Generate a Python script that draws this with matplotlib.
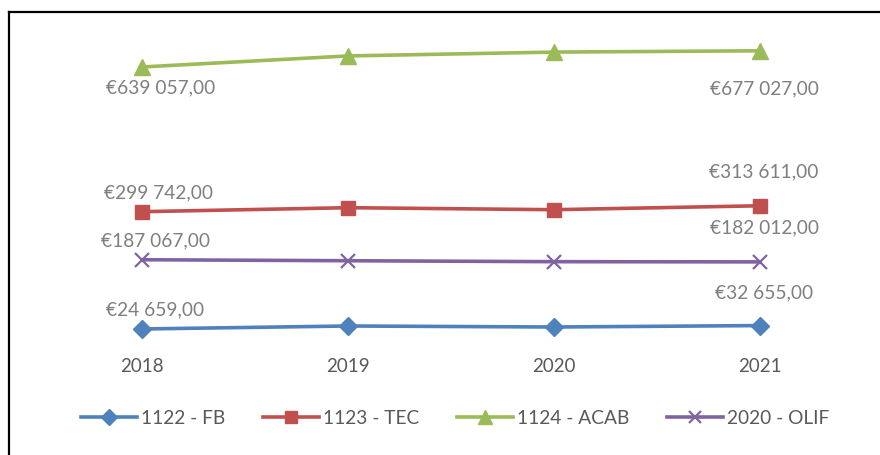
import matplotlib
matplotlib.use("Agg")
import matplotlib.pyplot as plt
from matplotlib.lines import Line2D

plt.rcParams['font.family'] = ['Lato', 'DejaVu Sans']

# data
years = ["2018", "2019", "2020", "2021"]
fb = [24659, 31700, 29300, 32655]
tec = [299742, 309100, 304400, 313611]
acab = [639057, 665000, 674000, 677027]
olif = [187067, 184700, 182500, 182012]
names = ["1122 - FB", "1123 - TEC", "1124 - ACAB", "2020 - OLIF"]

series = [fb, tec, acab, olif]
colors = ["#4F81BD", "#C0504D", "#9BBB59", "#8064A2"]
markers = ["D", "s", "^", "x"]
msizes = [9, 10, 11, 10]
# label offsets in pixels (first point, last point)
offsets = [((13, 19), (4, 33)),
           ((16, 19), (4, 34)),
           ((19, -21), (4, -38)),
           ((13, 19), (4, 34))]

fig = plt.figure(figsize=(8.8, 4.55), dpi=100)
ax = fig.add_axes([39 / 880, (455 - 339.5) / 455, (863 - 39) / 880, (339.5 - 41) / 455])

x = list(range(len(years)))
for vals, c, m, ms, off in zip(series, colors, markers, msizes, offsets):
    mew = 1.6 if m == "x" else 1
    ax.plot(x, vals, color=c, lw=2.6, marker=m, ms=ms, mec=c, mfc=c, mew=mew,
            solid_capstyle="round")
    for i, o in zip([0, len(vals) - 1], off):
        lab = "€" + f"{vals[i]:,.2f}".replace(",", " ").replace(".", ",")
        ax.annotate(lab, (x[i], vals[i]), xytext=o, textcoords="offset pixels",
                    ha="center", va="center", fontsize=13.8, color="#7F7F7F")

ax.set_xlim(-0.5, len(years) - 0.5)
ax.set_ylim(0, 700000)
ax.set_xticks(x)
ax.set_xticklabels(years, fontsize=13.5, color="#595959")
ax.tick_params(axis="x", length=0, pad=13)
ax.set_yticks([])
for s in ax.spines.values():
    s.set_visible(False)

handles = [Line2D([0], [0], color=c, lw=2.6, marker=m, ms=ms - 1, mec=c, mfc=c,
                  mew=(1.6 if m == "x" else 1))
           for c, m, ms in zip(colors, markers, msizes)]
fig.legend(handles, names, loc="center", bbox_to_anchor=(455 / 880, (455 - 418) / 455),
           ncol=4, frameon=False, fontsize=13.8, handlelength=2.9, handletextpad=0.2,
           columnspacing=2.0, labelcolor="#595959")

# chart border (top and left visible)
fig.add_artist(Line2D([9 / 880, 9 / 880], [0, (455 - 11.5) / 455], color="black", lw=1.6,
                      transform=fig.transFigure))
fig.add_artist(Line2D([9 / 880, 1], [(455 - 11.5) / 455, (455 - 11.5) / 455], color="black",
                      lw=1.6, transform=fig.transFigure))

fig.savefig("out.png", dpi=100, facecolor="white")
